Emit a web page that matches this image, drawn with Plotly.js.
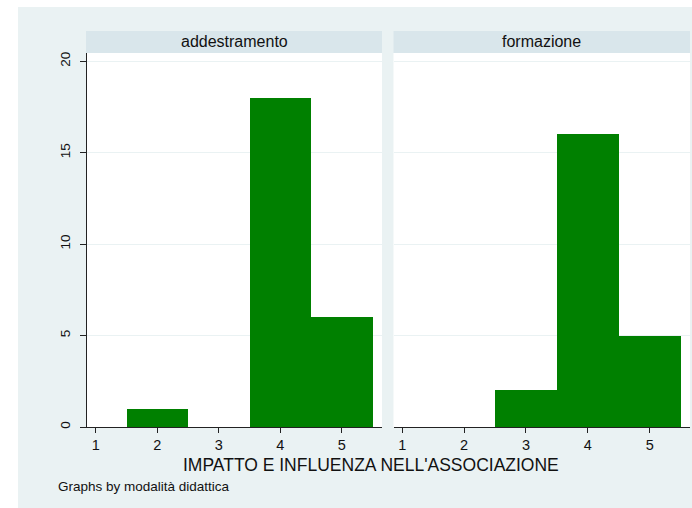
<!DOCTYPE html>
<html>
<head>
<meta charset="utf-8">
<script src="https://cdn.plot.ly/plotly-3.0.1.min.js"></script>
<style>html,body{margin:0;padding:0;background:#fff;}#chart{width:692px;height:508px;}</style>
</head>
<body>
<div id="chart"></div>
<script>
// Data
var categories = [1, 2, 3, 4, 5];
var panelNames = ["addestramento", "formazione"];
var addestramento = [0, 1, 0, 18, 6];
var formazione = [0, 0, 2, 16, 5];
var yTicks = [0, 5, 10, 15, 20];
var xTitle = "IMPATTO E INFLUENZA NELL'ASSOCIAZIONE";
var note = "Graphs by modalità didattica";

var W = 692, H = 508;
function px(x) { return x / W; }
function py(y) { return 1 - y / H; }

var green = "#008000";
var FONT = "Liberation Sans, Arial, Helvetica, sans-serif";

var traces = [
  { type: "bar", x: categories, y: addestramento, xaxis: "x", yaxis: "y", width: 1,
    marker: { color: green, line: { width: 0 } }, hoverinfo: "x+y" },
  { type: "bar", x: categories, y: formazione, xaxis: "x2", yaxis: "y2", width: 1,
    marker: { color: green, line: { width: 0 } }, hoverinfo: "x+y" }
];

var xRange = [0.858, 5.652];
var yRange = [0, 20.45];
var L1 = 87, R1 = 382, L2 = 393.5, R2 = 690, TOP = 53, BOT = 427;

var xCommon = {
  range: xRange, tickmode: "array", tickvals: categories, ticktext: categories.map(String),
  showgrid: false, zeroline: false, showline: true, linecolor: "#222", linewidth: 1,
  ticks: "outside", ticklen: 5, tickcolor: "#222", tickwidth: 1,
  tickfont: { family: FONT, size: 14.5, color: "#111" }, fixedrange: true
};

var layout = {
  width: W, height: H,
  margin: { l: 0, r: 0, t: 0, b: 0, pad: 0 },
  paper_bgcolor: "#ffffff",
  plot_bgcolor: "rgba(0,0,0,0)",
  showlegend: false,
  bargap: 0,
  font: { family: FONT, color: "#111" },
  xaxis: Object.assign({}, xCommon, { domain: [px(L1), px(R1)], anchor: "y" }),
  xaxis2: Object.assign({}, xCommon, { domain: [px(L2), px(R2)], anchor: "y2" }),
  yaxis: {
    domain: [py(BOT), py(TOP)], range: yRange, anchor: "x",
    tickmode: "array", tickvals: yTicks, ticktext: yTicks.map(String),
    tickangle: -90, showgrid: true, gridcolor: "#EAF2F3", gridwidth: 1,
    zeroline: false, showline: true, linecolor: "#222", linewidth: 1,
    ticks: "outside", ticklen: 6, tickcolor: "#222", ticklabelstandoff: 5,
    tickfont: { family: FONT, size: 13.5, color: "#111" }, fixedrange: true
  },
  yaxis2: {
    domain: [py(BOT), py(TOP)], range: yRange, anchor: "x2",
    tickmode: "array", tickvals: yTicks, showticklabels: false,
    showgrid: true, gridcolor: "#EAF2F3", gridwidth: 1,
    zeroline: false, showline: false, ticks: "", fixedrange: true
  },
  shapes: [
    { type: "rect", xref: "paper", yref: "paper", x0: px(18), x1: 1, y0: 0, y1: py(7),
      fillcolor: "#EAF2F3", line: { width: 0 }, layer: "below" },
    { type: "rect", xref: "paper", yref: "paper", x0: px(L1), x1: px(R1), y0: py(BOT), y1: py(TOP),
      fillcolor: "#ffffff", line: { width: 0 }, layer: "below" },
    { type: "rect", xref: "paper", yref: "paper", x0: px(L2), x1: px(R2), y0: py(BOT), y1: py(TOP),
      fillcolor: "#ffffff", line: { width: 0 }, layer: "below" },
    { type: "rect", xref: "paper", yref: "paper", x0: px(86), x1: px(R1), y0: py(53), y1: py(31),
      fillcolor: "#D9E6EB", line: { width: 0 }, layer: "below" },
    { type: "rect", xref: "paper", yref: "paper", x0: px(L2), x1: px(R2), y0: py(53), y1: py(31),
      fillcolor: "#D9E6EB", line: { width: 0 }, layer: "below" }
  ],
  annotations: [
    { xref: "paper", yref: "paper", x: px((86 + R1) / 2), y: py(42), text: panelNames[0],
      showarrow: false, xanchor: "center", yanchor: "middle", font: { family: FONT, size: 16, color: "#111" } },
    { xref: "paper", yref: "paper", x: px((L2 + R2) / 2), y: py(42), text: panelNames[1],
      showarrow: false, xanchor: "center", yanchor: "middle", font: { family: FONT, size: 16, color: "#111" } },
    { xref: "paper", yref: "paper", x: px(371), y: py(465), text: xTitle,
      showarrow: false, xanchor: "center", yanchor: "middle", font: { family: FONT, size: 17.5, color: "#111" } },
    { xref: "paper", yref: "paper", x: px(56), y: py(486), text: note,
      showarrow: false, xanchor: "left", yanchor: "middle", font: { family: FONT, size: 13.5, color: "#111" } }
  ]
};

Plotly.newPlot("chart", traces, layout, { displayModeBar: false, staticPlot: true });
</script>
</body>
</html>
